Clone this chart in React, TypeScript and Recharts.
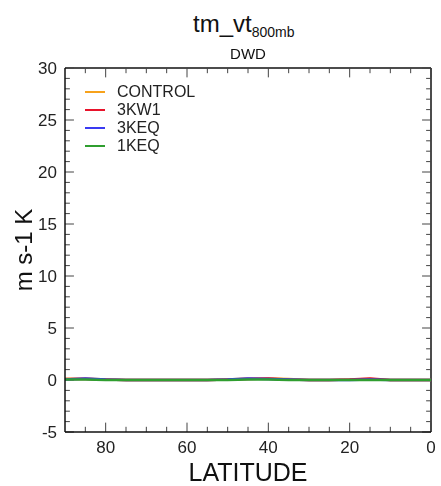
import React from "react";
import { LineChart, Line, XAxis, YAxis, ReferenceLine } from "recharts";

// latitude grid, 90N -> equator
const latitude = [90, 85, 80, 75, 70, 65, 60, 55, 50, 45, 40, 35, 30, 25, 20, 15, 10, 5, 0];
const control = [0.1, 0.15, 0.05, 0, 0, 0, 0, 0, 0.05, 0.15, 0.15, 0.1, 0, 0, 0.05, 0.1, 0, 0, 0];
const kw1 = [0.1, 0.1, 0.05, 0, 0, 0, 0, 0, 0.05, 0.1, 0.15, 0.05, 0, 0, 0.05, 0.15, 0, 0, 0];
const keq3 = [0.05, 0.15, 0.05, 0, 0, 0, 0, 0, 0.05, 0.15, 0.1, 0.05, 0, 0, 0, 0.05, 0, 0, 0];
const keq1 = [0.05, 0.05, 0, 0, 0, 0, 0, 0, 0, 0.05, 0.05, 0, 0, 0, 0, 0, 0, 0, 0];

const xMajor = [0, 20, 40, 60, 80];
const xMinor = [5, 10, 15, 25, 30, 35, 45, 50, 55, 65, 70, 75, 85];
const yMajor = [-5, 0, 5, 10, 15, 20, 25, 30];
const yMinor = Array.from({ length: 36 }, (_, i) => i - 5).filter((v) => !yMajor.includes(v));

const series = [
  { key: "control", name: "CONTROL", color: "#f7a21b" },
  { key: "kw1", name: "3KW1", color: "#e8132b" },
  { key: "keq3", name: "3KEQ", color: "#3a3af2" },
  { key: "keq1", name: "1KEQ", color: "#2f9e2f" },
];

const data = latitude.map((lat, i) => ({
  lat,
  control: control[i],
  kw1: kw1[i],
  keq3: keq3[i],
  keq1: keq1[i],
}));

const font = "'Liberation Sans', Arial, sans-serif";
const W = 441;
const H = 486;
const TOP = 68;
const BOTTOM = 432;
const LEFT = 65;
const RIGHT = 431;
const INK = "#444";
// tick lengths: vertical marks in y units, horizontal marks in degrees (~5px minor, ~9px major)
const VLEN = { minor: 0.5, major: 0.9 };
const HLEN = { minor: 1.2, major: 2.2 };

const XTick = (p: any) => (
  <text x={p.x} y={BOTTOM + 21} textAnchor="middle" fontSize={17} fill="#222" fontFamily={font}>
    {p.payload.value}
  </text>
);

const YTick = (p: any) => (
  <text x={LEFT - 8} y={p.y + 6} textAnchor="end" fontSize={17} fill="#222" fontFamily={font}>
    {p.payload.value}
  </text>
);

const xTickMarks = (vals: number[], len: number) =>
  vals.flatMap((v) => [
    <ReferenceLine key={`xb${v}`} xAxisId="main" yAxisId="main" segment={[{ x: v, y: -5 }, { x: v, y: -5 + len }]} stroke={INK} />,
    <ReferenceLine key={`xt${v}`} xAxisId="main" yAxisId="main" segment={[{ x: v, y: 30 }, { x: v, y: 30 - len }]} stroke={INK} />,
  ]);

const yTickMarks = (vals: number[], len: number) =>
  vals.flatMap((v) => [
    <ReferenceLine key={`yl${v}`} xAxisId="main" yAxisId="main" segment={[{ x: 90, y: v }, { x: 90 - len, y: v }]} stroke={INK} />,
    <ReferenceLine key={`yr${v}`} xAxisId="main" yAxisId="main" segment={[{ x: 0, y: v }, { x: len, y: v }]} stroke={INK} />,
  ]);

export default function App() {
  return (
    <div style={{ position: "fixed", left: 0, top: 0, width: W, height: H, background: "#fff", fontFamily: font, color: "#111" }}>
      <div style={{ position: "absolute", left: 193, top: 12, fontSize: 24, lineHeight: "24px", whiteSpace: "nowrap" }}>
        tm_vt<span style={{ fontSize: 14, position: "relative", top: 5 }}>800mb</span>
      </div>
      <div style={{ position: "absolute", left: 0, width: 496, top: 46, textAlign: "center", fontSize: 15, lineHeight: "15px" }}>
        DWD
      </div>
      <LineChart width={W} height={H} data={data} margin={{ top: TOP, right: W - RIGHT, bottom: 0, left: 0 }}>
        <XAxis
          xAxisId="main"
          dataKey="lat"
          type="number"
          domain={[0, 90]}
          reversed
          ticks={xMajor}
          interval={0}
          tickLine={false}
          tickSize={0}
          tickMargin={0}
          axisLine={{ stroke: "#111", strokeWidth: 1.5 }}
          height={H - BOTTOM}
          tick={XTick}
          label={{ value: "LATITUDE", position: "insideBottom", offset: 5, fontSize: 25, fill: "#111", fontFamily: font }}
        />
        <YAxis
          yAxisId="main"
          type="number"
          domain={[-5, 30]}
          ticks={yMajor}
          interval={0}
          tickLine={false}
          tickSize={0}
          tickMargin={0}
          width={LEFT}
          axisLine={{ stroke: "#111", strokeWidth: 1.5 }}
          tick={YTick}
          label={{ value: "m s-1 K", angle: -90, position: "insideLeft", offset: 23, fontSize: 24, fill: "#111", fontFamily: font, style: { textAnchor: "middle" } }}
        />
        <ReferenceLine xAxisId="main" yAxisId="main" y={30} stroke="#111" strokeWidth={1.5} />
        <ReferenceLine xAxisId="main" yAxisId="main" x={0} stroke="#111" strokeWidth={1.5} />
        {xTickMarks(xMinor, VLEN.minor)}
        {xTickMarks(xMajor, VLEN.major)}
        {yTickMarks(yMinor, HLEN.minor)}
        {yTickMarks(yMajor, HLEN.major)}
        {series.map((s) => (
          <Line
            key={s.key}
            xAxisId="main"
            yAxisId="main"
            dataKey={s.key}
            name={s.name}
            stroke={s.color}
            strokeWidth={2.5}
            dot={false}
            isAnimationActive={false}
          />
        ))}
      </LineChart>
      <div style={{ position: "absolute", left: 85, top: 83 }}>
        {series.map((s) => (
          <div key={s.key} style={{ display: "flex", alignItems: "center", height: 18, fontSize: 16, color: "#222" }}>
            <span style={{ display: "inline-block", width: 20, height: 2, background: s.color, marginRight: 12 }} />
            {s.name}
          </div>
        ))}
      </div>
    </div>
  );
}
